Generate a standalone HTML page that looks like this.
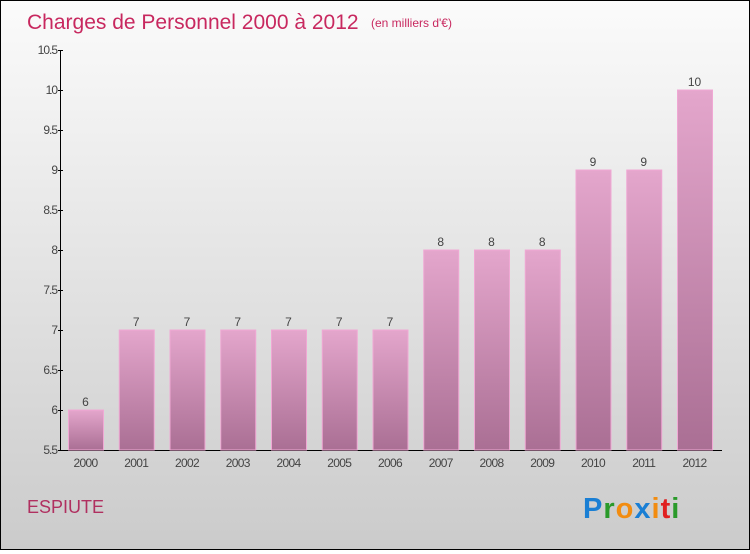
<!DOCTYPE html>
<html><head><meta charset="utf-8"><style>
body{margin:0;width:750px;height:550px;overflow:hidden;font-family:"Liberation Sans",sans-serif}
#wrap{position:absolute;left:0;top:0;width:748px;height:548px;border:1px solid #000;background:linear-gradient(#fbfbfb,#cbcbcb)}
</style></head><body>
<div id="wrap">
<svg width="748" height="548">
<defs><linearGradient id="bg" x1="0" y1="0" x2="0" y2="1"><stop offset="0" stop-color="#e4a6cc"/><stop offset="1" stop-color="#aa6f94"/></linearGradient></defs>
<text x="26" y="28" font-size="21" fill="#c8285f">Charges de Personnel 2000 à 2012</text>
<text x="370" y="26" font-size="12" fill="#c8285f">(en milliers d'€)</text>
<g id="axes"></g><g id="bars"></g>
<text x="26" y="512" font-size="18" fill="#b03060">ESPIUTE</text>
<g font-size="29" font-weight="bold" font-family="Liberation Sans,sans-serif">
<text x="582" y="517" letter-spacing="1"><tspan fill="#1a7fd4">P</tspan><tspan fill="#2a9a2a">r</tspan><tspan fill="#f28c10">o</tspan><tspan fill="#1a7fd4">x</tspan><tspan fill="#f28c10">i</tspan><tspan fill="#e02020">t</tspan><tspan fill="#2a9a2a">i</tspan></text></g>
</svg></div>
<script>
const categories=["2000","2001","2002","2003","2004","2005","2006","2007","2008","2009","2010","2011","2012"];
const values=[6,7,7,7,7,7,7,8,8,8,9,9,10];
const labels=["6","7","7","7","7","7","7","8","8","8","9","9","10"];
const ticks=[5.5,6,6.5,7,7.5,8,8.5,9,9.5,10,10.5];
const tickLabels=["5.5","6","6.5","7","7.5","8","8.5","9","9.5","10","10.5"];
const NS="http://www.w3.org/2000/svg";
const y=v=>449-(v-5.5)*80;
const x=i=>84.5+i*50.75;
function mk(t,a,p){const e=document.createElementNS(NS,t);for(const k in a)e.setAttribute(k,a[k]);p.appendChild(e);return e;}
const ax=document.getElementById('axes'),bg=document.getElementById('bars');
const yl=mk('line',{x1:59.5,y1:49,x2:59.5,y2:450,stroke:'#000'},ax);


const xl=mk('line',{x1:59,y1:449.5,x2:721,y2:449.5,stroke:'#000'},ax);


ticks.forEach((t,i)=>{
mk('line',{x1:57,x2:62,y1:y(t)+.5,y2:y(t)+.5,stroke:'#000'},ax);
const tx=mk('text',{x:56,y:y(t)+4,'text-anchor':'end','font-size':12,fill:'#444','letter-spacing':'-1'},ax);tx.textContent=tickLabels[i];


});
categories.forEach((c,i)=>{
const r=mk('rect',{x:x(i)-17,y:y(values[i]),width:35,height:449-y(values[i]),fill:'url(#bg)',stroke:'#f0a8d4','stroke-width':1},bg);


const l=mk('text',{x:x(i),y:y(values[i])-4,'text-anchor':'middle','font-size':12,fill:'#444'},bg);l.textContent=labels[i];


const xt=mk('text',{x:x(i),y:466,'text-anchor':'middle','font-size':12,fill:'#444','letter-spacing':'-0.7'},ax);xt.textContent=c;


});
</script>
</body></html>
